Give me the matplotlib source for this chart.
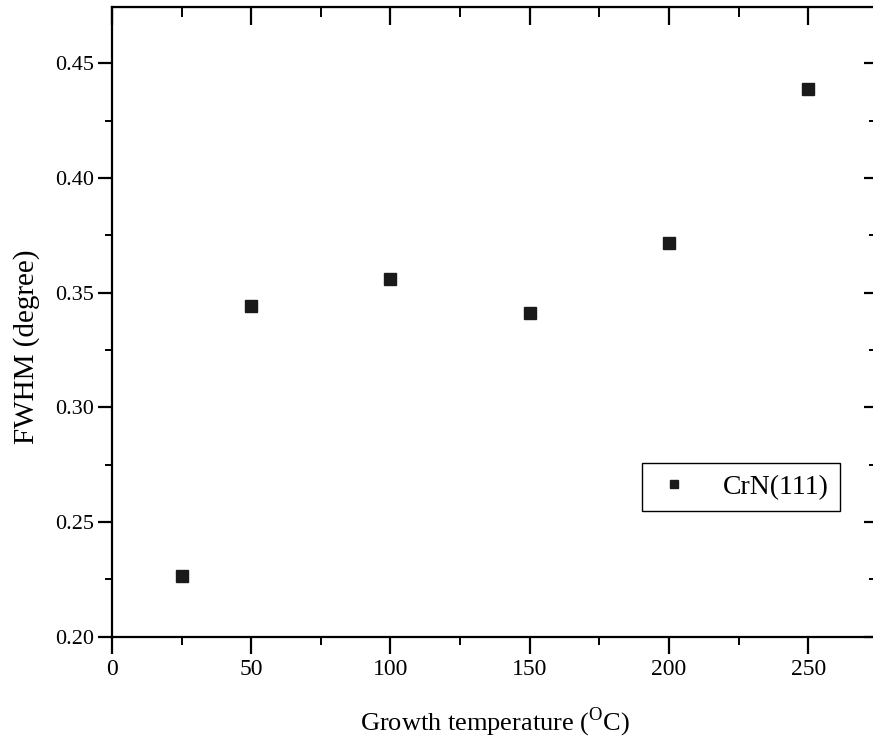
import matplotlib
matplotlib.use("Agg")
import matplotlib.pyplot as plt
from matplotlib.ticker import MultipleLocator, FormatStrFormatter, NullFormatter

plt.rcParams["font.family"] = ["Liberation Serif", "DejaVu Serif"]
plt.rcParams["mathtext.fontset"] = "custom"
plt.rcParams["mathtext.rm"] = "Liberation Serif"

# growth temperature (C) vs FWHM of CrN(111) peak
temperature = [25, 50, 100, 150, 200, 250]
fwhm = [0.2266, 0.3442, 0.3560, 0.3411, 0.3716, 0.4387]
series_label = "CrN(111)"

fig = plt.figure(figsize=(8.73, 7.38), dpi=100)
ax = fig.add_axes([0.1283, 0.1373, 0.874, 0.8532])

ax.plot(temperature, fwhm, linestyle="none", marker="s", markersize=8.5,
        color="#1a1a1a", label=series_label)

ax.set_xlim(0, 274)
ax.set_ylim(0.20, 0.4745)
ax.xaxis.set_major_locator(MultipleLocator(50))
ax.xaxis.set_minor_locator(MultipleLocator(25))
ax.yaxis.set_major_locator(MultipleLocator(0.05))
ax.yaxis.set_minor_locator(MultipleLocator(0.025))
ax.yaxis.set_major_formatter(FormatStrFormatter("%.2f"))

for s in ax.spines.values():
    s.set_linewidth(1.6)

ax.tick_params(axis="x", which="major", direction="out", length=12, width=1.6,
               labelsize=17, pad=4)
ax.tick_params(axis="x", which="minor", direction="out", length=6, width=1.4)
ax.tick_params(axis="y", which="major", direction="out", length=10, width=1.6,
               labelsize=16, pad=3)
ax.tick_params(axis="y", which="minor", direction="out", length=5, width=1.4)

# mirrored ticks on top and right point inward
top = ax.secondary_xaxis("top")
top.xaxis.set_major_locator(MultipleLocator(50))
top.xaxis.set_minor_locator(MultipleLocator(25))
top.xaxis.set_major_formatter(NullFormatter())
top.tick_params(which="major", direction="in", length=13, width=1.6)
top.tick_params(which="minor", direction="in", length=7, width=1.4)
right = ax.secondary_yaxis("right")
right.yaxis.set_major_locator(MultipleLocator(0.05))
right.yaxis.set_minor_locator(MultipleLocator(0.025))
right.yaxis.set_major_formatter(NullFormatter())
right.tick_params(which="major", direction="in", length=8, width=1.6)
right.tick_params(which="minor", direction="in", length=4, width=1.4)

ax.set_xlabel("Growth temperature ($^{\\mathrm{O}}$C)", fontsize=19)
ax.xaxis.set_label_coords(0.502, -0.1355)
ax.xaxis.label.set_va("center")
ax.set_ylabel("FWHM (degree)", fontsize=21)
ax.yaxis.set_label_coords(-0.112, 0.46)
ax.yaxis.label.set_va("center")

leg = ax.legend(loc="lower right", bbox_to_anchor=(0.954, 0.1996), borderaxespad=0,
                frameon=True, fancybox=False, framealpha=1, edgecolor="black",
                fontsize=20, markerscale=0.75, handletextpad=1.0, borderpad=0.4,
                handlelength=1.5)
leg.get_frame().set_linewidth(1.0)

fig.savefig("out.png", dpi=100)
